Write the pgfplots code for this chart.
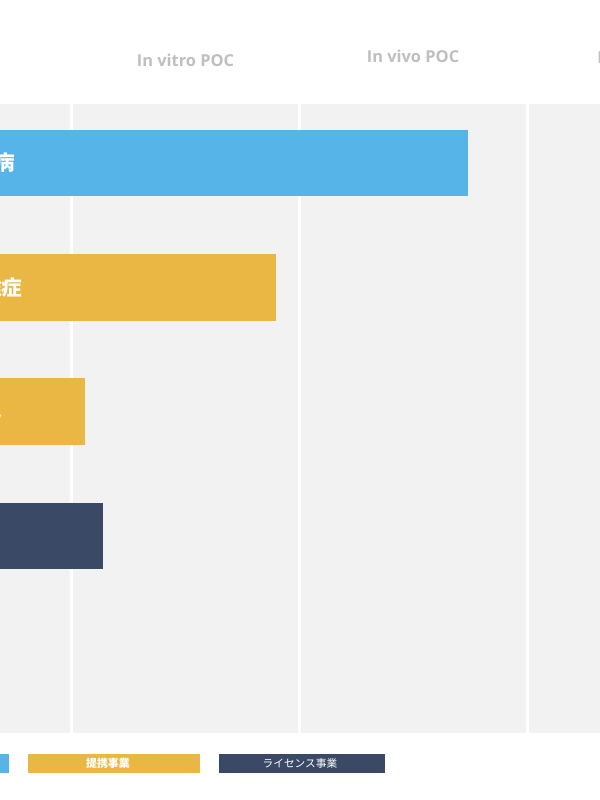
\documentclass[border=0pt]{standalone}
\usepackage{pgfplots}
\pgfplotsset{compat=1.18}
\usepackage{fontspec}
\setmainfont{Open Sans}
\newfontfamily\cjk{Noto Sans CJK JP}
\definecolor{cblue}{RGB}{86,180,233}
\definecolor{corange}{RGB}{235,183,68}
\definecolor{cnavy}{RGB}{58,74,102}
\definecolor{bggray}{RGB}{242,242,242}
\definecolor{headgray}{RGB}{191,191,191}
\begin{document}
\begin{tikzpicture}
\path[use as bounding box, fill=white] (0,0) rectangle (450pt,600pt);
\begin{axis}[
  at={(0pt,50.25pt)}, anchor=south west,
  scale only axis, width=450pt, height=471.75pt,
  xmin=0.6864, xmax=3.318, ymin=0.5263, ymax=5.5846, y dir=reverse,
  xbar, bar width=49.9pt, bar shift=0pt,
  axis background/.style={fill=bggray},
  axis line style={draw=none}, major tick length=0pt,
  xtick={1,2,3}, xticklabels={}, ytick=\empty,
  xmajorgrids, grid style={white, line width=2.2pt},
  clip mode=individual,
]
\addplot[fill=cblue, draw=none] coordinates {(2.739,1)};
\addplot[fill=corange, draw=none] coordinates {(1.897,2)};
\addplot[fill=corange, draw=none] coordinates {(1.059,3)};
\addplot[fill=cnavy, draw=none] coordinates {(1.138,4)};
% stage headers
\node[text=headgray, font=\bfseries\fontsize{12.3}{14}\selectfont] at (axis cs:1.5,0.1725) {In vitro POC};
\node[text=headgray, font=\bfseries\fontsize{12.3}{14}\selectfont] at (axis cs:2.498,0.1443) {In vivo POC};
\node[text=headgray, font=\bfseries\fontsize{12.3}{14}\selectfont, anchor=west, inner sep=0pt] at (axis cs:3.305,0.1484) {Preclinical};
% bar labels
\node[text=white, font=\cjk\bfseries\fontsize{15.5}{17}\selectfont, anchor=east, inner sep=0pt] at (axis cs:0.7522,0.995) {神経難病};
\node[text=white, font=\cjk\bfseries\fontsize{15.5}{17}\selectfont, anchor=east, inner sep=0pt] at (axis cs:0.786,2.005) {線維症};
\node[text=white, font=\cjk\bfseries\fontsize{15.5}{17}\selectfont, anchor=east, inner sep=0pt] at (axis cs:0.6974,3.0) {がん};
% legend
\node[fill=cblue, minimum width=127.5pt, minimum height=14.6pt, inner sep=0pt, anchor=east] at (axis cs:0.7259,5.830) {};
\node[fill=corange, minimum width=129pt, minimum height=14.6pt, inner sep=0pt] at (axis cs:1.1864,5.830) {};
\node[text=white, font=\cjk\bfseries\fontsize{8.2}{9}\selectfont, inner sep=0pt] at (axis cs:1.160,5.830) {提携事業};
\node[fill=cnavy, minimum width=124.5pt, minimum height=14.6pt, inner sep=0pt] at (axis cs:2.011,5.830) {};
\node[text=white, font=\cjk\fontsize{8}{9}\selectfont, inner sep=0pt] at (axis cs:2.002,5.830) {ライセンス事業};
\end{axis}
\end{tikzpicture}
\end{document}
